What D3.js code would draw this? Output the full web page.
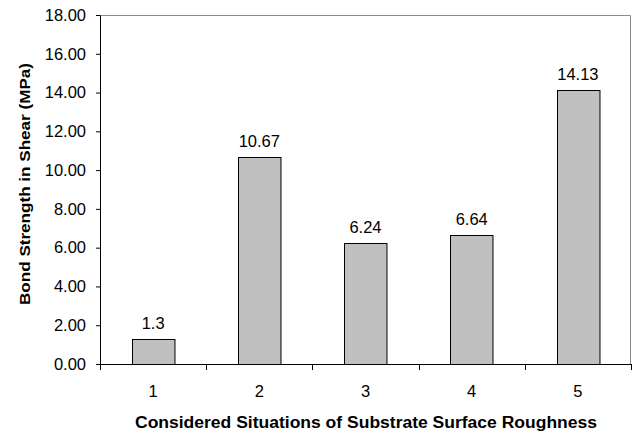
<!DOCTYPE html>
<html>
<head>
<meta charset="utf-8">
<script src="https://cdn.jsdelivr.net/npm/d3@7"></script>
<style>
  body { margin: 0; background: #fff; }
  text { font-family: "Liberation Sans", Arial, sans-serif; fill: #000; }
</style>
</head>
<body>
<svg id="chart"></svg>
<script>
// Données du graphique
const situations = ["1", "2", "3", "4", "5"];
const strengths = [1.3, 10.67, 6.24, 6.64, 14.13];
const valueLabels = ["1.3", "10.67", "6.24", "6.64", "14.13"];
const yTicks = [0, 2, 4, 6, 8, 10, 12, 14, 16, 18];

const width = 633;
const height = 431;
const margin = { top: 15, right: 2, bottom: 67, left: 100 };
const innerW = width - margin.left - margin.right;
const innerH = height - margin.top - margin.bottom;

const svg = d3.select("#chart")
    .attr("width", width)
    .attr("height", height);

const g = svg.append("g")
    .attr("transform", `translate(${margin.left},${margin.top})`);

// Échelles
const x = d3.scaleBand()
    .domain(situations)
    .range([0, innerW])
    .paddingInner(0.6)
    .paddingOuter(0.3);

const xTickPos = d3.scaleLinear().domain([0, situations.length]).range([0, innerW]);

const y = d3.scaleLinear()
    .domain([0, 18])
    .range([innerH, 0]);

// Cadre gris (haut et droite)
g.append("path")
    .attr("d", `M0.5,0.5H${innerW - 0.5}V${innerH}`)
    .attr("fill", "none")
    .attr("stroke", "#8c8c8c")
    .attr("stroke-width", 1);

// Barres
g.selectAll("rect.bar")
    .data(strengths)
    .enter().append("rect")
    .attr("class", "bar")
    .attr("x", (d, i) => Math.round(x(situations[i])) + 0.5)
    .attr("y", d => Math.round(y(d)) + 0.5)
    .attr("width", x.bandwidth())
    .attr("height", d => innerH - Math.round(y(d)))
    .attr("fill", "#c0c0c0")
    .attr("stroke", "#000")
    .attr("stroke-width", 1);

// Étiquettes des valeurs
g.selectAll("text.val")
    .data(strengths)
    .enter().append("text")
    .attr("class", "val")
    .attr("x", (d, i) => x(situations[i]) + x.bandwidth() / 2)
    .attr("y", d => y(d) - 10)
    .attr("text-anchor", "middle")
    .attr("font-size", "16.5px")
    .text((d, i) => valueLabels[i]);

// Axe Y
const yAxis = g.append("g")
    .call(d3.axisLeft(y).tickValues(yTicks).tickSize(4).tickPadding(10)
        .tickFormat(d3.format(".2f")));
yAxis.selectAll("text").attr("font-size", "16.5px").attr("font-family", "Liberation Sans, Arial, sans-serif");
yAxis.selectAll("line,path").attr("stroke", "#000");

// Axe X
const xAxis = g.append("g")
    .attr("transform", `translate(0,${innerH})`);
xAxis.append("line")
    .attr("x1", 0).attr("x2", innerW)
    .attr("y1", 0.5).attr("y2", 0.5)
    .attr("stroke", "#000");
xAxis.selectAll("line.tick")
    .data(d3.range(situations.length + 1))
    .enter().append("line")
    .attr("class", "tick")
    .attr("x1", d => Math.round(xTickPos(d)) + 0.5)
    .attr("x2", d => Math.round(xTickPos(d)) + 0.5)
    .attr("y1", 0).attr("y2", 6)
    .attr("stroke", "#000");
xAxis.selectAll("text.xl")
    .data(situations)
    .enter().append("text")
    .attr("class", "xl")
    .attr("x", d => x(d) + x.bandwidth() / 2)
    .attr("y", 33)
    .attr("text-anchor", "middle")
    .attr("font-size", "16.5px")
    .text(d => d);

// Titres des axes
svg.append("text")
    .attr("x", 366)
    .attr("y", 428)
    .attr("text-anchor", "middle")
    .attr("font-size", "16px")
    .attr("font-weight", "bold")
    .attr("textLength", 462)
    .attr("lengthAdjust", "spacingAndGlyphs")
    .text("Considered Situations of Substrate Surface Roughness");

svg.append("text")
    .attr("transform", `translate(30,184) rotate(-90)`)
    .attr("text-anchor", "middle")
    .attr("font-size", "15px")
    .attr("font-weight", "bold")
    .attr("textLength", 242)
    .attr("lengthAdjust", "spacingAndGlyphs")
    .text("Bond Strength in Shear (MPa)");
</script>
</body>
</html>
